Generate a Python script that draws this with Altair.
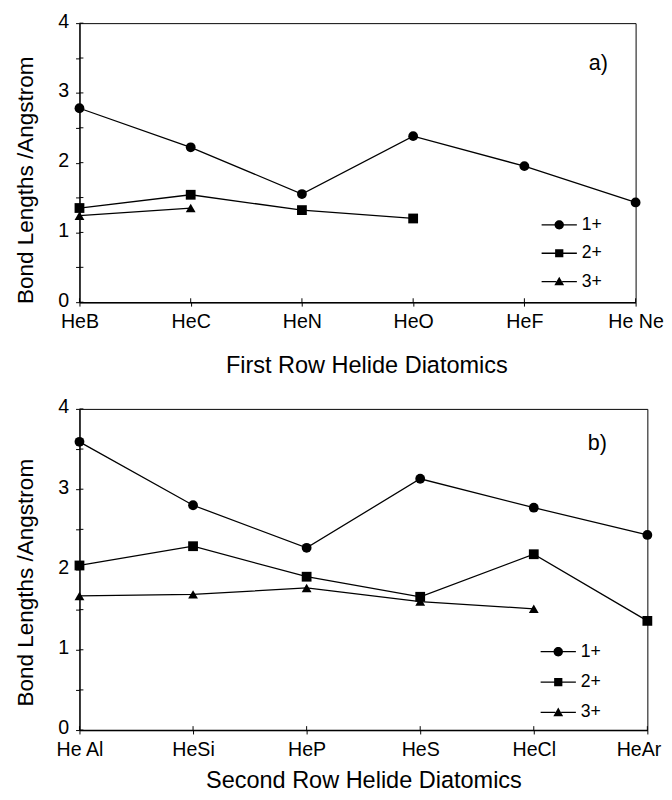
import altair as alt
import pandas as pd

# ---------------- data ----------------
series_names = ["1+", "2+", "3+"]

cats_a = ["HeB", "HeC", "HeN", "HeO", "HeF", "He Ne"]
ion1_a = [2.78, 2.22, 1.55, 2.38, 1.95, 1.43]
ion2_a = [1.35, 1.54, 1.32, 1.20]
ion3_a = [1.24, 1.35]

cats_b = ["He Al", "HeSi", "HeP", "HeS", "HeCl", "HeAr"]
ion1_b = [3.59, 2.80, 2.27, 3.13, 2.77, 2.43]
ion2_b = [2.05, 2.29, 1.91, 1.66, 2.19, 1.36]
ion3_b = [1.67, 1.69, 1.77, 1.60, 1.51]

y_ticks = [0, 0.5, 1, 1.5, 2, 2.5, 3, 3.5, 4]

FONT = "Liberation Sans"

# legend symbols: horizontal line with marker (custom SVG paths, filled)
L = "M-1.8,-0.065 L-0.3,-0.065 L-0.3,0.065 L-1.8,0.065 Z M0.3,-0.065 L1.8,-0.065 L1.8,0.065 L0.3,0.065 Z "
legend_paths = [
    L + "M0.48,0 A0.48,0.48 0 1,1 -0.48,0 A0.48,0.48 0 1,1 0.48,0 Z",
    L + "M-0.42,-0.42 L0.42,-0.42 L0.42,0.42 L-0.42,0.42 Z",
    L + "M0,-0.5 L0.5,0.38 L-0.5,0.38 Z",
]


def build_df(cats, series_lists):
    rows = []
    for name, vals in zip(series_names, series_lists):
        for i, v in enumerate(vals):
            rows.append({"mol": cats[i], "series": name, "val": v})
    return pd.DataFrame(rows)


def panel(cats, series_lists, width, height, xtitle, xtitle_x, tag, tag_x, tag_y,
          leg_x, leg_y, row_pad, title_y, title_pad, last_label, last_off):
    df = build_df(cats, series_lists)
    x_enc = alt.X(
        "mol:N",
        scale=alt.Scale(type="point", domain=cats, padding=0),
        sort=cats,
        axis=alt.Axis(
            title=xtitle, labelAngle=0, tickSize=4, labelPadding=6,
            titlePadding=title_pad, titleFontSize=24, titleX=xtitle_x,
            domainWidth=1.6, tickWidth=1,
            labelOffset={"condition": {"test": f"datum.label == '{last_label}'",
                                       "value": last_off}, "value": 0},
        ),
    )
    y_enc = alt.Y(
        "val:Q",
        scale=alt.Scale(domain=[0, 4], nice=False, zero=True),
        axis=alt.Axis(
            values=y_ticks,
            labelExpr="datum.value % 1 === 0 ? '' + datum.value : ''",
            grid=False, tickSize=4, labelPadding=7, labelOffset=-2,
            title="Bond Lengths /Angstrom", titleFontSize=23,
            titleX=-55, titleY=title_y, titleAngle=270,
            titleAlign="center", titleBaseline="middle",
            domainWidth=1.2,
        ),
    )
    base = alt.Chart(df)
    # inward halves of the crossing tick marks
    yt = alt.Chart(pd.DataFrame({"val": y_ticks})).mark_rule(
        color="black", strokeWidth=1
    ).encode(y=y_enc, x=alt.value(0), x2=alt.value(4))
    xt = alt.Chart(pd.DataFrame({"mol": cats})).mark_rule(
        color="black", strokeWidth=1
    ).encode(x=x_enc, y=alt.value(height), y2=alt.value(height - 4))
    lines = base.mark_line(color="black", strokeWidth=1.3).encode(
        x=x_enc, y=y_enc, detail="series:N"
    )
    pts = base.mark_point(filled=True, color="black", opacity=1, size=100).encode(
        x=x_enc, y=y_enc,
        shape=alt.Shape("series:N",
                        scale=alt.Scale(domain=series_names,
                                        range=["circle", "square", "triangle-up"]),
                        legend=None),
    )
    leg = base.transform_filter("false").mark_point(
        filled=True, color="black", opacity=1
    ).encode(
        x=x_enc, y=y_enc,
        shape=alt.Shape(
            "series:N",
            scale=alt.Scale(domain=series_names, range=legend_paths),
            legend=alt.Legend(
                title=None, orient="none", legendX=leg_x, legendY=leg_y,
                symbolSize=400, rowPadding=row_pad, labelOffset=12,
                labelFontSize=18, labelFont=FONT, labelColor="black",
                symbolFillColor="black", symbolOpacity=1, padding=0,
            ),
        ),
    )
    tag_df = pd.DataFrame({"t": [tag]})
    txt = alt.Chart(tag_df).mark_text(
        font=FONT, fontSize=22, color="black", align="center", baseline="middle"
    ).encode(text="t:N", x=alt.value(tag_x), y=alt.value(tag_y))
    return alt.layer(yt, xt, lines, pts, leg, txt).resolve_scale(
        shape="independent"
    ).properties(width=width, height=height)


top = panel(cats_a, [ion1_a, ion2_a, ion3_a], 568, 285,
            "First Row Helide Diatomics", 293, "a)", 530, 41,
            479, 195, 9, 160, 23, "He Ne", 0)
bottom = panel(cats_b, [ion1_b, ion2_b, ion3_b], 580, 328,
               "Second Row Helide Diatomics", 290, "b)", 529, 35,
               478, 237, 11, 177, 10, "HeAr", -9)

chart = alt.vconcat(top, bottom, spacing=18).resolve_scale(
    x="independent", y="independent", shape="independent"
).properties(
    padding={"left": 6, "top": -6, "right": 0, "bottom": 0},
    background="white",
).configure_view(
    stroke="black", strokeWidth=1
).configure_axis(
    labelFont=FONT, titleFont=FONT, labelFontSize=20,
    titleFontWeight="normal", labelColor="black", titleColor="black",
    domainColor="black", tickColor="black",
)

chart.save("out.html", embed_options={"renderer": "svg", "actions": False})
